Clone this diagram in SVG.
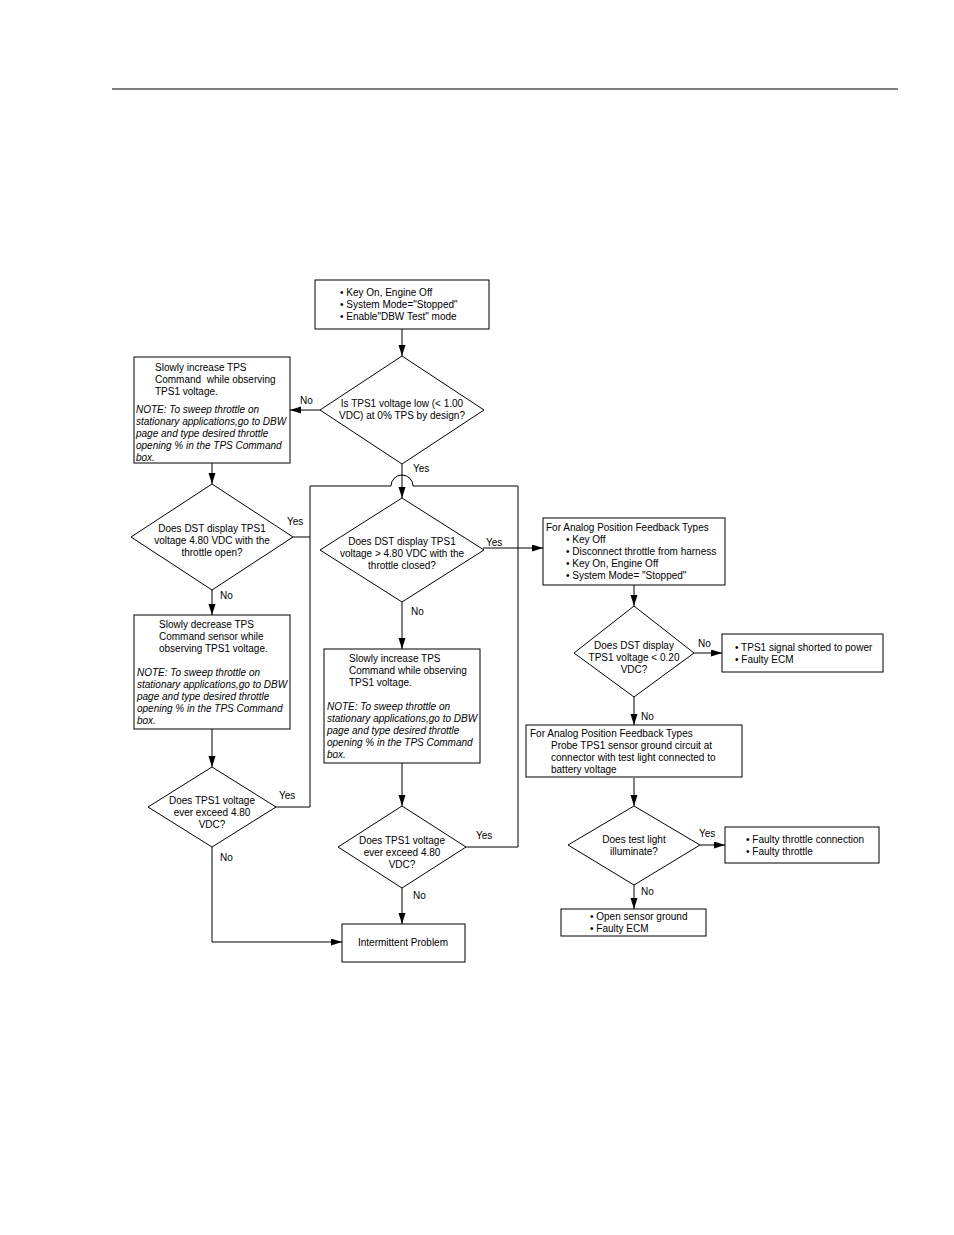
<svg xmlns="http://www.w3.org/2000/svg" width="954" height="1235" viewBox="0 0 954 1235">
<defs>
<marker id="ah" markerUnits="userSpaceOnUse" markerWidth="12" markerHeight="8" refX="11" refY="3.5" orient="auto">
<path d="M0,0 L11,3.5 L0,7 Z" fill="#000"/>
</marker>
<style>
text{font-family:"Liberation Sans",Arial,sans-serif;font-size:10px;fill:#000}
.i{font-style:italic}
.m{text-anchor:middle}
.b{fill:#fff;stroke:#000;stroke-width:1}
.c{fill:none;stroke:#000;stroke-width:1}
.a{marker-end:url(#ah)}
</style>
</defs>
<rect width="954" height="1235" fill="#fff"/>
<line x1="112" y1="89" x2="898" y2="89" stroke="#000" stroke-width="1"/>

<g id="connectors">
<path class="c a" d="M402 329 V356"/>
<path class="c a" d="M320 410 H290"/>
<path class="c a" d="M212 463 V484"/>
<path class="c a" d="M402 464 V498"/>
<path class="c" d="M293 537 H310"/>
<path class="c" d="M276 807 H310 V486 H391 A11 11 0 0 1 413 486 H518 V847 H466"/>
<path class="c a" d="M483 548 H543"/>
<path class="c a" d="M402 602 V649"/>
<path class="c a" d="M402 763 V806"/>
<path class="c a" d="M402 888 V924"/>
<path class="c a" d="M212 590 V615"/>
<path class="c a" d="M212 729 V767"/>
<path class="c a" d="M212 847 V942 H342"/>
<path class="c a" d="M634 585 V606"/>
<path class="c a" d="M694 653 H722"/>
<path class="c a" d="M634 697 V725"/>
<path class="c a" d="M634 778 V806"/>
<path class="c a" d="M700 845 H725"/>
<path class="c a" d="M634 885 V909"/>
<text x="300" y="404">No</text>
<text x="413" y="472">Yes</text>
<text x="287" y="525">Yes</text>
<text x="486" y="546">Yes</text>
<text x="411" y="615">No</text>
<text x="220" y="599">No</text>
<text x="279" y="799">Yes</text>
<text x="220" y="861">No</text>
<text x="476" y="839">Yes</text>
<text x="413" y="899">No</text>
<text x="698" y="647">No</text>
<text x="641" y="720">No</text>
<text x="699" y="837">Yes</text>
<text x="641" y="895">No</text>
</g>

<g id="start">
<rect class="b" x="315" y="280" width="174" height="49"/>
<text x="340" y="296">• Key On, Engine Off</text>
<text x="340" y="308">• System Mode="Stopped"</text>
<text x="340" y="320">• Enable"DBW Test" mode</text>
</g>

<g id="d1">
<path class="b" d="M402 356 L484 410 L402 464 L320 410 Z"/>
<text class="m" x="402" y="407">Is TPS1 voltage low (&lt; 1.00</text>
<text class="m" x="402" y="419">VDC) at 0% TPS by design?</text>
</g>

<g id="b2">
<rect class="b" x="134" y="357" width="156" height="106"/>
<text x="155" y="371">Slowly increase TPS</text>
<text x="155" y="383" xml:space="preserve">Command  while observing</text>
<text x="155" y="395">TPS1 voltage.</text>
<text class="i" x="136" y="413">NOTE: To sweep throttle on</text>
<text class="i" x="136" y="425">stationary applications,go to DBW</text>
<text class="i" x="136" y="437">page and type desired throttle</text>
<text class="i" x="136" y="449">opening % in the TPS Command</text>
<text class="i" x="136" y="461">box.</text>
</g>

<g id="d2">
<path class="b" d="M212 484 L293 537 L212 590 L131 537 Z"/>
<text class="m" x="212" y="532">Does DST display TPS1</text>
<text class="m" x="212" y="544">voltage 4.80 VDC with the</text>
<text class="m" x="212" y="556">throttle open?</text>
</g>

<g id="b3">
<rect class="b" x="134" y="615" width="156" height="114"/>
<text x="159" y="628">Slowly decrease TPS</text>
<text x="159" y="640">Command sensor while</text>
<text x="159" y="652">observing TPS1 voltage.</text>
<text class="i" x="137" y="676">NOTE: To sweep throttle on</text>
<text class="i" x="137" y="688">stationary applications,go to DBW</text>
<text class="i" x="137" y="700">page and type desired throttle</text>
<text class="i" x="137" y="712">opening % in the TPS Command</text>
<text class="i" x="137" y="724">box.</text>
</g>

<g id="d4">
<path class="b" d="M212 767 L276 807 L212 847 L148 807 Z"/>
<text class="m" x="212" y="804">Does TPS1 voltage</text>
<text class="m" x="212" y="816">ever exceed 4.80</text>
<text class="m" x="212" y="828">VDC?</text>
</g>

<g id="d3">
<path class="b" d="M402 498 L484 550 L402 602 L320 550 Z"/>
<text class="m" x="402" y="545">Does DST display TPS1</text>
<text class="m" x="402" y="557">voltage &gt; 4.80 VDC with the</text>
<text class="m" x="402" y="569">throttle closed?</text>
</g>

<g id="b4">
<rect class="b" x="324" y="649" width="156" height="114"/>
<text x="349" y="662">Slowly increase TPS</text>
<text x="349" y="674">Command while observing</text>
<text x="349" y="686">TPS1 voltage.</text>
<text class="i" x="327" y="710">NOTE: To sweep throttle on</text>
<text class="i" x="327" y="722">stationary applications,go to DBW</text>
<text class="i" x="327" y="734">page and type desired throttle</text>
<text class="i" x="327" y="746">opening % in the TPS Command</text>
<text class="i" x="327" y="758">box.</text>
</g>

<g id="d5">
<path class="b" d="M402 806 L466 847 L402 888 L338 847 Z"/>
<text class="m" x="402" y="844">Does TPS1 voltage</text>
<text class="m" x="402" y="856">ever exceed 4.80</text>
<text class="m" x="402" y="868">VDC?</text>
</g>

<g id="b5">
<rect class="b" x="342" y="924" width="123" height="38"/>
<text class="m" x="403" y="946">Intermittent Problem</text>
</g>

<g id="b6">
<rect class="b" x="543" y="518" width="182" height="67"/>
<text x="546" y="531">For Analog Position Feedback Types</text>
<text x="566" y="543">• Key Off</text>
<text x="566" y="555">• Disconnect throttle from harness</text>
<text x="566" y="567">• Key On, Engine Off</text>
<text x="566" y="579">• System Mode= "Stopped"</text>
</g>

<g id="d6">
<path class="b" d="M634 606 L694 653 L634 697 L574 653 Z"/>
<text class="m" x="634" y="649">Does DST display</text>
<text class="m" x="634" y="661">TPS1 voltage &lt; 0.20</text>
<text class="m" x="634" y="673">VDC?</text>
</g>

<g id="b7">
<rect class="b" x="722" y="634" width="161" height="38"/>
<text x="735" y="651">• TPS1 signal shorted to power</text>
<text x="735" y="663">• Faulty ECM</text>
</g>

<g id="b8">
<rect class="b" x="526" y="725" width="216" height="52"/>
<text x="530" y="737">For Analog Position Feedback Types</text>
<text x="551" y="749">Probe TPS1 sensor ground circuit at</text>
<text x="551" y="761">connector with test light connected to</text>
<text x="551" y="773">battery voltage</text>
</g>

<g id="d7">
<path class="b" d="M634 806 L700 845 L634 885 L568 845 Z"/>
<text class="m" x="634" y="843">Does test light</text>
<text class="m" x="634" y="855">illuminate?</text>
</g>

<g id="b9">
<rect class="b" x="725" y="827" width="154" height="36"/>
<text x="746" y="843">• Faulty throttle connection</text>
<text x="746" y="855">• Faulty throttle</text>
</g>

<g id="b10">
<rect class="b" x="561" y="909" width="145" height="27"/>
<text x="590" y="920">• Open sensor ground</text>
<text x="590" y="932">• Faulty ECM</text>
</g>
</svg>
